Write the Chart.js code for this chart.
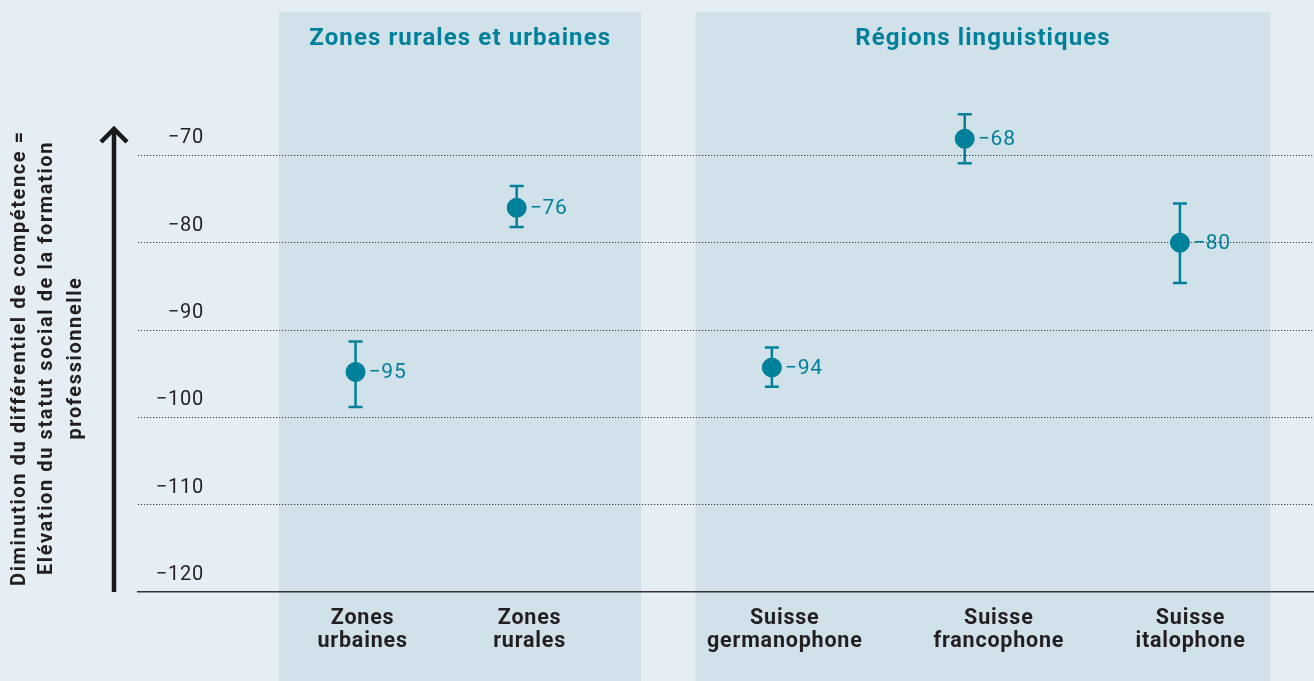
<!DOCTYPE html>
<html><head><meta charset="utf-8">
<script src="https://cdn.jsdelivr.net/npm/chart.js@4"></script>
<style>html,body{margin:0;padding:0;background:#e6eef5;overflow:hidden} canvas{display:block}</style>
</head><body><canvas id="c" width="1314" height="681"></canvas>
<script>
const categories = [['Zones','urbaines'],['Zones','rurales'],['Suisse','germanophone'],['Suisse','francophone'],['Suisse','italophone']];
const xSlots = [18.5, 32.2, 53.9, 70.3, 88.6];
const labelSlots = [19.1, 33.3, 55.0, 73.2, 89.5];
const values = [-94.8, -76.0, -94.3, -68.1, -80.0];
const valueLabels = ['−95','−76','−94','−68','−80'];
const lowerBounds = [-98.8, -78.2, -96.5, -70.9, -84.6];
const upperBounds = [-91.3, -73.5, -92.0, -65.3, -75.5];
const yTicks = [-120, -110, -100, -90, -80, -70];
const groupTitles = ['Zones rurales et urbaines', 'Régions linguistiques'];
const groupFrom = [12.0, 47.4];
const groupTo = [42.8, 96.3];
const yTitle = ['Diminution du différentiel de compétence =', 'Elévation du statut social de la formation', 'professionnelle'];

const TEAL = '#00809a';
const DARK = '#231f20';
const FONT = 'Roboto, "Noto Sans", sans-serif';

const decor = {
  id: 'decor',
  beforeDraw(chart) {
    const {ctx, width, height} = chart;
    const xs = chart.scales.x;
    ctx.letterSpacing = '0.8px';
    ctx.save();
    ctx.fillStyle = '#e6eef5';
    ctx.fillRect(0, 0, width, height);
    ctx.fillStyle = '#d1e1e9';
    groupTitles.forEach((t, i) => {
      const x0 = xs.getPixelForValue(groupFrom[i]);
      const x1 = xs.getPixelForValue(groupTo[i]);
      ctx.fillRect(x0, 12, x1 - x0, height - 12);
    });
    ctx.fillStyle = TEAL;
    ctx.font = 'bold 24px ' + FONT;
    ctx.letterSpacing = '1.1px';
    ctx.textAlign = 'center';
    ctx.textBaseline = 'middle';
    groupTitles.forEach((t, i) => {
      const x0 = xs.getPixelForValue(groupFrom[i]);
      const x1 = xs.getPixelForValue(groupTo[i]);
      ctx.fillText(t, (x0 + x1) / 2, 39);
    });
    // y title
    ctx.fillStyle = DARK;
    ctx.font = 'bold 20px ' + FONT;
    ctx.letterSpacing = '1.6px';
    ctx.translate(0, 358);
    ctx.rotate(-Math.PI / 2);
    const xsLines = [20, 47, 76];
    yTitle.forEach((l, i) => ctx.fillText(l, 0, xsLines[i]));
    ctx.restore();
  },
  afterDatasetsDraw(chart) {
    const {ctx} = chart;
    const ys = chart.scales.y;
    const meta = chart.getDatasetMeta(0);
    ctx.save();
    // arrow
    ctx.strokeStyle = '#1a1a1a';
    ctx.lineWidth = 4.5;
    ctx.lineCap = 'butt';
    ctx.lineJoin = 'miter';
    ctx.beginPath();
    ctx.moveTo(114, ys.bottom);
    ctx.lineTo(114, 131);
    ctx.stroke();
    ctx.beginPath();
    ctx.moveTo(101, 142);
    ctx.lineTo(114, 129);
    ctx.lineTo(127, 142);
    ctx.stroke();
    // error bars
    ctx.strokeStyle = TEAL;
    ctx.lineWidth = 2.5;
    meta.data.forEach((pt, i) => {
      const yl = ys.getPixelForValue(lowerBounds[i]);
      const yh = ys.getPixelForValue(upperBounds[i]);
      ctx.beginPath();
      ctx.moveTo(pt.x, yl); ctx.lineTo(pt.x, yh);
      ctx.moveTo(pt.x - 7, yl); ctx.lineTo(pt.x + 7, yl);
      ctx.moveTo(pt.x - 7, yh); ctx.lineTo(pt.x + 7, yh);
      ctx.stroke();
    });
    ctx.fillStyle = TEAL;
    meta.data.forEach((pt) => {
      ctx.beginPath();
      ctx.arc(pt.x, pt.y, 9.5, 0, Math.PI * 2);
      ctx.fill();
    });
    // value labels
    ctx.font = '21px ' + FONT;
    ctx.letterSpacing = '0.8px';
    ctx.textAlign = 'left';
    ctx.textBaseline = 'middle';
    meta.data.forEach((pt, i) => {
      ctx.fillText(valueLabels[i], pt.x + 13, pt.y + 1);
    });
    ctx.restore();
  }
};

new Chart(document.getElementById('c'), {
  type: 'scatter',
  data: {
    datasets: [{
      data: xSlots.map((x, i) => ({x, y: values[i]})),
      backgroundColor: TEAL,
      borderColor: TEAL,
      pointRadius: 9.5,
      pointHoverRadius: 9.5
    }]
  },
  options: {
    responsive: false,
    animation: false,
    layout: {autoPadding: false, padding: {top: 103, right: 0, left: 0, bottom: 0}},
    plugins: {legend: {display: false}, tooltip: {enabled: false}},
    scales: {
      x: {
        type: 'linear',
        min: 0, max: 100,
        afterBuildTicks(axis) { axis.ticks = labelSlots.map(v => ({value: v})); },
        afterFit(axis) { axis.height = 89; axis.paddingLeft = 0; axis.paddingRight = 0; },
        grid: {display: false, drawTicks: false},
        border: {display: true, color: '#333', width: 1.5},
        ticks: {
          autoSkip: false,
          maxRotation: 0,
          padding: 15,
          color: DARK,
          font: {family: FONT, size: 21.5, weight: 'bold', lineHeight: 1.07},
          callback(v) { const i = labelSlots.indexOf(v); return i >= 0 ? categories[i] : ''; }
        }
      },
      y: {
        min: -120, max: -64,
        afterBuildTicks(axis) { axis.ticks = yTicks.map(v => ({value: v})); },
        afterFit(axis) { axis.width = 138; axis.paddingTop = 0; axis.paddingBottom = 0; },
        border: {display: false, dash: [1.2, 1.8]},
        grid: {
          drawTicks: false,
          color: (c) => c.tick && c.tick.value === -120 ? 'rgba(0,0,0,0)' : '#3a3a3a',
          lineWidth: 1
        },
        ticks: {
          mirror: true,
          crossAlign: 'far',
          padding: 21,
          labelOffset: -17,
          color: DARK,
          font: {family: FONT, size: 20},
          callback(v) { return String(v).replace('-', '−'); }
        }
      }
    }
  },
  plugins: [decor]
});
</script>
</body></html>
